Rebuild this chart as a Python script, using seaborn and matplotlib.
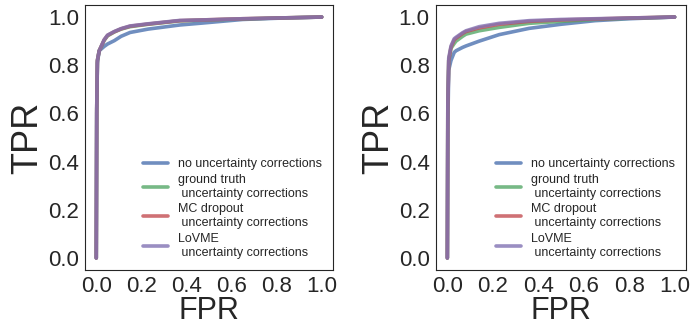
"""ROC curves with and without uncertainty corrections."""

import matplotlib

matplotlib.use("Agg")
import matplotlib.pyplot as plt
import seaborn as sns

# Curve labels
labels = [
    "no uncertainty corrections",
    "ground truth\n uncertainty corrections",
    "MC dropout\n uncertainty corrections",
    "LoVME\n uncertainty corrections",
]

# Left panel
fpr_left = [0, 0.002, 0.005, 0.013, 0.035, 0.05, 0.08, 0.11, 0.15, 0.23, 0.37, 0.47, 0.65, 0.8, 1.0]
tpr_left_none = [0, 0.60, 0.81, 0.86, 0.878, 0.888, 0.902, 0.92, 0.936, 0.95, 0.967, 0.975, 0.99, 0.995, 1.0]
tpr_left_gt = [0, 0.62, 0.82, 0.86, 0.903, 0.922, 0.938, 0.95, 0.96, 0.97, 0.984, 0.987, 0.992, 0.996, 1.0]
tpr_left_mc = [0, 0.62, 0.82, 0.86, 0.905, 0.924, 0.939, 0.951, 0.962, 0.971, 0.985, 0.988, 0.993, 0.996, 1.0]
tpr_left_lovme = [0, 0.62, 0.82, 0.86, 0.906, 0.925, 0.94, 0.952, 0.963, 0.972, 0.986, 0.988, 0.993, 0.996, 1.0]

# Right panel
fpr_right = [0, 0.002, 0.006, 0.016, 0.03, 0.038, 0.067, 0.082, 0.14, 0.228, 0.36, 0.5, 0.65, 0.8, 1.0]
tpr_right_none = [0, 0.55, 0.78, 0.82, 0.853, 0.86, 0.874, 0.88, 0.90, 0.927, 0.953, 0.97, 0.985, 0.993, 1.0]
tpr_right_gt = [0, 0.65, 0.82, 0.87, 0.89, 0.90, 0.92, 0.929, 0.943, 0.957, 0.974, 0.982, 0.99, 0.995, 1.0]
tpr_right_mc = [0, 0.62, 0.82, 0.875, 0.905, 0.912, 0.932, 0.94, 0.955, 0.97, 0.982, 0.988, 0.992, 0.996, 1.0]
tpr_right_lovme = [0, 0.63, 0.83, 0.88, 0.91, 0.916, 0.935, 0.943, 0.96, 0.974, 0.985, 0.99, 0.993, 0.996, 1.0]

panels = [
    (fpr_left, [tpr_left_none, tpr_left_gt, tpr_left_mc, tpr_left_lovme]),
    (fpr_right, [tpr_right_none, tpr_right_gt, tpr_right_mc, tpr_right_lovme]),
]

sns.set_style("white")
plt.rcParams["font.family"] = ["Liberation Sans", "DejaVu Sans"]
# old-style deep palette: blue, green, red, purple
colors = sns.color_palette("deep6", 4)

fig = plt.figure(figsize=(6.91, 3.25), dpi=100)
axes = [
    fig.add_axes([85 / 691, 55 / 325, 248 / 691, 265 / 325]),
    fig.add_axes([436 / 691, 55 / 325, 250 / 691, 265 / 325]),
]

for ax, (fpr, tprs) in zip(axes, panels):
    for tpr, label, color in zip(tprs, labels, colors):
        sns.lineplot(x=fpr, y=tpr, ax=ax, label=label, color=color, lw=2.6, alpha=0.8)

    ax.set_xlim(-0.05, 1.05)
    ax.set_ylim(-0.05, 1.05)
    ax.set_xticks([0, 0.2, 0.4, 0.6, 0.8, 1.0])
    ax.set_yticks([0, 0.2, 0.4, 0.6, 0.8, 1.0])
    ax.tick_params(labelsize=16, pad=1)
    ax.set_xlabel("FPR", fontsize=22, labelpad=-1)
    ax.set_ylabel("TPR", fontsize=26, labelpad=2)
    ax.legend(loc="lower right", fontsize=9, frameon=False, labelspacing=0.3)

fig.savefig("out.png", dpi=100)
plt.close()
